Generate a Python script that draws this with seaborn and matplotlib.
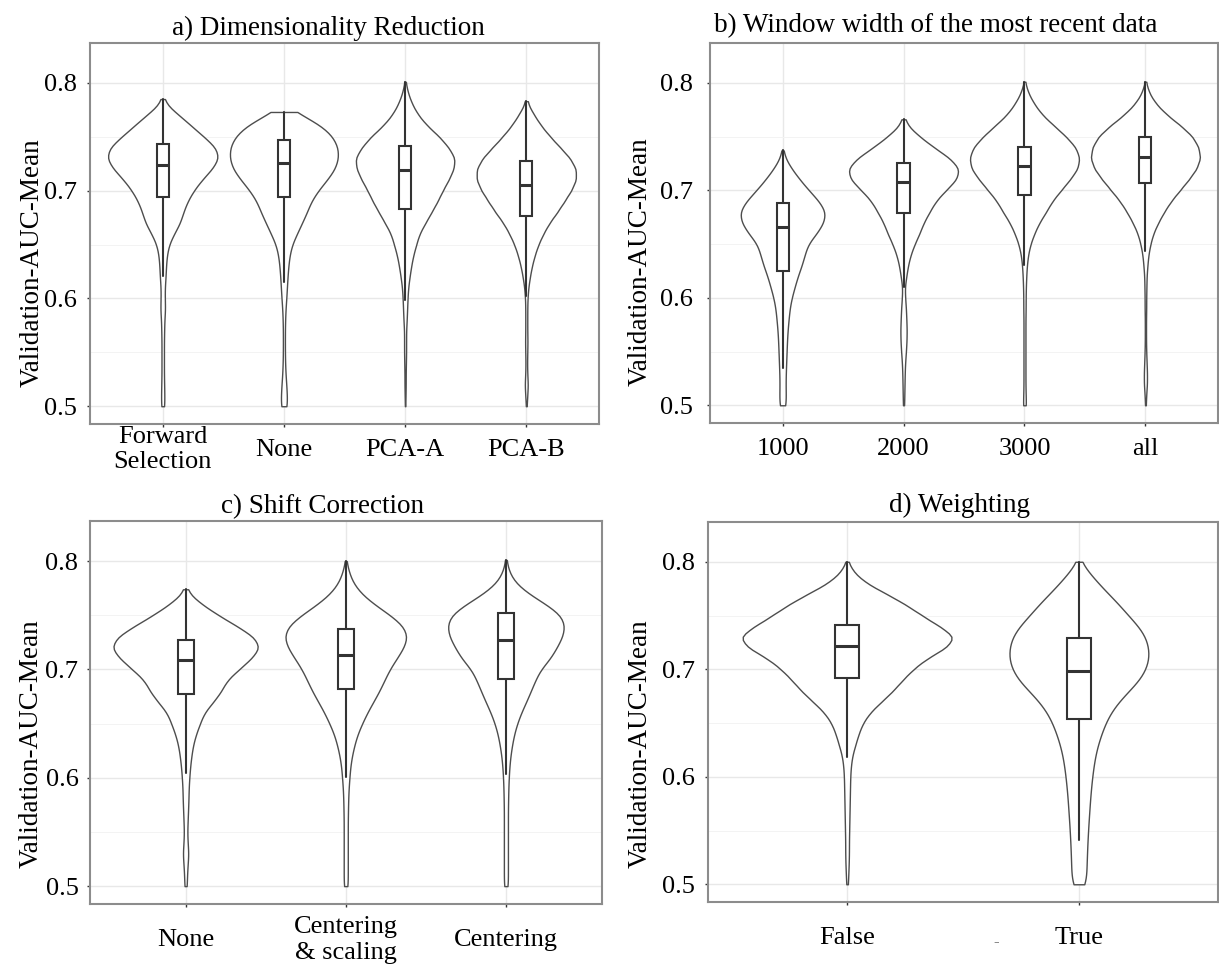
import numpy as np
import pandas as pd
import matplotlib.pyplot as plt
import seaborn as sns
from matplotlib.ticker import FormatStrFormatter

sns.set_theme(style="whitegrid")
plt.rcParams['font.family'] = ['Liberation Serif', 'DejaVu Serif']
plt.rcParams['text.color'] = 'black'
plt.rcParams['axes.labelcolor'] = 'black'

# AUC levels at which the violin widths were read (top to bottom)
LEVELS = [0.80, 0.79, 0.78, 0.77, 0.76, 0.75, 0.74, 0.73, 0.72, 0.71, 0.70,
          0.69, 0.68, 0.67, 0.66, 0.65, 0.64, 0.63, 0.62, 0.61, 0.60,
          0.59, 0.58, 0.57, 0.56, 0.55, 0.54, 0.53, 0.52, 0.51, 0.50]

# a) Dimensionality Reduction
DIM_LABELS = ["Forward\nSelection", "None", "PCA-A", "PCA-B"]
DIM_FORWARD = [0, 0, 15, 80, 140, 200, 260, 275, 240, 190, 150,
               120, 100, 85, 55, 30, 20, 16, 14, 10, 10,
               12, 8, 7, 6, 6, 6, 6, 7, 8, 8]
DIM_NONE = [0, 0, 0, 90, 190, 245, 270, 272, 255, 215, 170,
            135, 115, 90, 65, 40, 28, 22, 18, 15, 12,
            8, 6, 5, 5, 5, 6, 8, 12, 15, 16]
DIM_PCA_A = [2, 15, 35, 65, 110, 170, 215, 248, 240, 215, 185,
             160, 130, 100, 70, 55, 40, 30, 22, 15, 12,
             10, 8, 5, 5, 5, 4, 3, 3, 2, 1]
DIM_PCA_B = [0, 0, 8, 40, 75, 120, 170, 220, 250, 250, 225,
             190, 155, 115, 85, 60, 42, 28, 18, 10, 6,
             5, 5, 5, 6, 5, 4, 5, 8, 5, 2]
DIM_MAX = [0.785, 0.773, 0.801, 0.783]
DIM_Q1 = [0.6945, 0.6945, 0.6831, 0.6766]
DIM_MED = [0.7242, 0.7255, 0.7196, 0.7057]
DIM_Q3 = [0.7434, 0.7474, 0.7415, 0.7276]
DIM_LOW = [0.621, 0.6157, 0.5986, 0.6027]

# b) Window width of the most recent data
WIN_LABELS = ["1000", "2000", "3000", "all"]
WIN_1000 = [0, 0, 0, 0, 0, 0, 0, 12, 45, 85, 130,
            180, 215, 205, 170, 125, 110, 95, 75, 60, 45,
            35, 30, 25, 22, 20, 18, 16, 15, 16, 16]
WIN_2000 = [0, 0, 0, 0, 20, 80, 150, 230, 280, 265, 210,
            160, 130, 100, 80, 55, 35, 22, 14, 6, 8,
            12, 14, 16, 15, 12, 8, 6, 5, 4, 3]
WIN_3000 = [2, 20, 50, 90, 150, 210, 260, 280, 270, 230, 185,
            140, 110, 75, 50, 30, 18, 12, 9, 7, 6,
            6, 5, 5, 5, 5, 5, 5, 5, 6, 8]
WIN_ALL = [2, 20, 55, 110, 180, 240, 270, 280, 260, 220, 175,
           130, 95, 65, 40, 25, 15, 10, 6, 5, 4,
           4, 3, 3, 3, 4, 6, 8, 8, 4, 2]
WIN_MAX = [0.737, 0.766, 0.801, 0.801]
WIN_Q1 = [0.6249, 0.6788, 0.6959, 0.7067]
WIN_MED = [0.6658, 0.708, 0.7222, 0.7306]
WIN_Q3 = [0.6878, 0.7256, 0.7405, 0.7492]
WIN_LOW = [0.5347, 0.61, 0.6308, 0.6432]

# c) Shift Correction
SHIFT_LABELS = ["None", "Centering\n& scaling", "Centering"]
SHIFT_NONE = [0, 0, 0, 15, 80, 160, 250, 335, 365, 320, 260,
              200, 175, 135, 90, 70, 50, 36, 28, 22, 18,
              15, 14, 12, 10, 8, 10, 14, 10, 7, 6]
SHIFT_CS = [2, 15, 35, 75, 140, 220, 285, 305, 285, 250, 215,
            190, 165, 135, 105, 80, 57, 42, 30, 22, 18,
            14, 12, 11, 10, 10, 10, 10, 10, 10, 10]
SHIFT_CENTER = [2, 15, 45, 110, 200, 275, 292, 280, 250, 220, 170,
                145, 123, 100, 75, 55, 40, 30, 22, 17, 14,
                12, 11, 10, 10, 10, 10, 10, 10, 10, 10]
SHIFT_MAX = [0.774, 0.80, 0.801]
SHIFT_Q1 = [0.6776, 0.6822, 0.6908]
SHIFT_MED = [0.7083, 0.7135, 0.7276]
SHIFT_Q3 = [0.7273, 0.7374, 0.7518]
SHIFT_LOW = [0.604, 0.601, 0.6034]

# d) Weighting
WEIGHT_LABELS = ["False", "True"]
WEIGHT_FALSE = [3, 32, 92, 190, 282, 358, 442, 520, 475, 380, 315,
                265, 220, 165, 110, 75, 55, 40, 25, 18, 15,
                14, 13, 12, 11, 10, 9, 9, 8, 6, 4]
WEIGHT_TRUE = [3, 50, 95, 145, 200, 240, 295, 330, 343, 346, 330,
               300, 245, 195, 155, 130, 110, 93, 80, 72, 65,
               60, 55, 52, 48, 45, 42, 40, 38, 37, 36]
WEIGHT_MAX = [0.80, 0.80]
WEIGHT_Q1 = [0.6916, 0.6537]
WEIGHT_MED = [0.7212, 0.6984]
WEIGHT_Q3 = [0.7412, 0.7289]
WEIGHT_LOW = [0.618, 0.5416]

W, H = 1219, 971


def draw_panel(rect, title, labels, counts, maxima, q1, med, q3, low,
               title_x, title_pad, ylab_x, ylab_y, ytick_pad, xtick_pad):
    left, top, right, bottom = rect
    ax = fig.add_axes([left / W, 1 - bottom / H, (right - left) / W, (bottom - top) / H])

    # each violin gets its own width, proportional to its widest reading
    widest = max(max(c) for c in counts)
    for lab, cnt, top_val in zip(labels, counts, maxima):
        vals = np.append(np.repeat(LEVELS, cnt), top_val)
        df = pd.DataFrame({'group': lab, 'auc': vals})
        sns.violinplot(data=df, x='group', y='auc', order=labels, ax=ax, cut=0,
                       inner=None, density_norm='width', width=0.9 * max(cnt) / widest,
                       bw_method=0.14, color='white', saturation=1,
                       linecolor='#4d4d4d', linewidth=1.0)

    stats = [dict(q1=a, med=m, q3=b, whislo=lo, whishi=hi, fliers=[])
             for a, m, b, lo, hi in zip(q1, med, q3, low, maxima)]
    ax.bxp(stats, positions=range(len(labels)), widths=0.1, patch_artist=True,
           showcaps=False, showfliers=False, manage_ticks=False, zorder=3,
           boxprops=dict(facecolor='white', edgecolor='#333333', linewidth=1.5),
           medianprops=dict(color='#333333', linewidth=2.2),
           whiskerprops=dict(color='#333333', linewidth=1.5))

    ax.set_xlim(-0.6, len(labels) - 0.4)
    ax.set_ylim(0.4835, 0.837)
    ax.set_yticks([0.5, 0.6, 0.7, 0.8])
    ax.set_yticks([0.55, 0.65, 0.75], minor=True)
    ax.yaxis.set_major_formatter(FormatStrFormatter('%.1f'))
    ax.grid(which='major', color='#e8e8e8', linewidth=1.0)
    ax.grid(which='minor', axis='y', color='#f3f3f3', linewidth=0.7)
    ax.xaxis.grid(True)
    ax.set_axisbelow(True)

    ax.set_xlabel('')
    ax.set_ylabel('Validation-AUC-Mean', fontsize=19.5, color='black')
    ax.yaxis.set_label_coords(ylab_x, ylab_y)
    ax.set_title(title, fontsize=19.5, x=title_x, pad=title_pad, color='black')

    ax.tick_params(axis='both', which='major', length=2.5, width=1,
                   color='#333333', labelsize=19, labelcolor='black',
                   bottom=True, left=True)
    ax.tick_params(axis='y', pad=ytick_pad)
    ax.tick_params(axis='x', pad=xtick_pad)
    ax.tick_params(which='minor', length=0)
    for lab in ax.get_xticklabels():
        lab.set_verticalalignment('center')

    for sp in ax.spines.values():
        sp.set_visible(True)
        sp.set_color('#8c8c8c')
        sp.set_linewidth(1.5)
    return ax


fig = plt.figure(figsize=(W / 100, H / 100), dpi=100)

draw_panel((90, 43, 599, 424), "a) Dimensionality Reduction", DIM_LABELS,
           [DIM_FORWARD, DIM_NONE, DIM_PCA_A, DIM_PCA_B], DIM_MAX,
           DIM_Q1, DIM_MED, DIM_Q3, DIM_LOW,
           0.468, 5.5, -0.09, 0.423, 7, 16)
draw_panel((710, 43, 1218, 423), "b) Window width of the most recent data", WIN_LABELS,
           [WIN_1000, WIN_2000, WIN_3000, WIN_ALL], WIN_MAX,
           WIN_Q1, WIN_MED, WIN_Q3, WIN_LOW,
           0.445, 8, -0.112, 0.424, 9.5, 16)
draw_panel((89.5, 521, 602, 904), "c) Shift Correction", SHIFT_LABELS,
           [SHIFT_NONE, SHIFT_CS, SHIFT_CENTER], SHIFT_MAX,
           SHIFT_Q1, SHIFT_MED, SHIFT_Q3, SHIFT_LOW,
           0.454, 6, -0.09, 0.418, 5.5, 23.5)
draw_panel((708, 522, 1218, 902), "d) Weighting", WEIGHT_LABELS,
           [WEIGHT_FALSE, WEIGHT_TRUE], WEIGHT_MAX,
           WEIGHT_Q1, WEIGHT_MED, WEIGHT_Q3, WEIGHT_LOW,
           0.494, 7, -0.108, 0.416, 7, 23.5)

fig.text(996 / W, 1 - 942 / H, '-', ha='center', va='center', fontsize=12, color='#666666')

fig.savefig('out.png', dpi=100)
